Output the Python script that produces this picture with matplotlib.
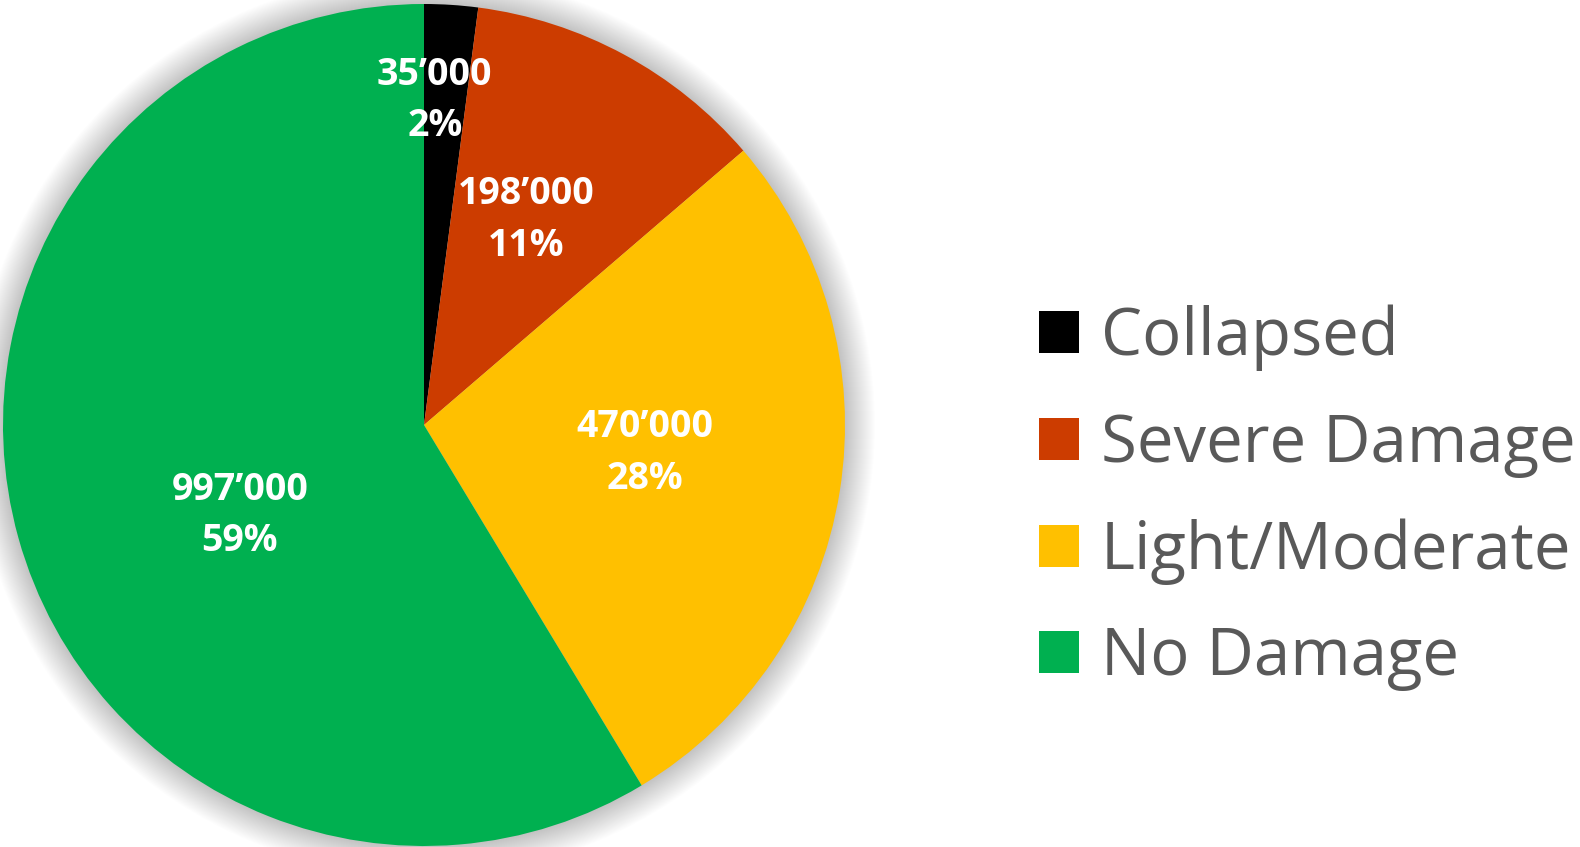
import numpy as np
import matplotlib.pyplot as plt
from matplotlib.patches import Circle

categories = ['Collapsed', 'Severe Damage', 'Light/Moderate', 'No Damage']
counts = [35000, 198000, 470000, 997000]
count_labels = ['35’000', '198’000', '470’000', '997’000']
pct_labels = ['2%', '11%', '28%', '59%']
colors = ['#000000', '#CC3C00', '#FFC000', '#00B050']
# data label placement: fraction of radius, and turn (deg) off the wedge middle
label_dist = [0.772, 0.544, 0.53, 0.487]
label_turn = [1.8, 1.9, 1.9, 10.5]

W, H = 1580, 847
fig = plt.figure(figsize=(W / 100, H / 100), dpi=100)
ax = fig.add_axes([0, 0, 1, 1])

cx, cy, r = 424, 422, 421

# soft shadow round the pie
for k in range(1, 31):
    ax.add_patch(Circle((cx, cy), r + k, color='black', alpha=0.006, lw=0, zorder=0))

wedges, _ = ax.pie(counts, colors=colors, startangle=90, counterclock=False,
                   center=(cx, cy), radius=r, frame=True,
                   wedgeprops=dict(linewidth=0))
ax.set_xlim(0, W)
ax.set_ylim(0, H)
ax.set_aspect('equal')
ax.axis('off')

for w, lab, pct, d, turn in zip(wedges, count_labels, pct_labels, label_dist, label_turn):
    theta = np.deg2rad((w.theta1 + w.theta2) / 2 + turn)
    ax.text(cx + d * r * np.cos(theta), cy + d * r * np.sin(theta),
            f'{lab}\n{pct}', ha='center', va='center', color='white',
            fontsize=27, fontweight='bold', family='Open Sans', linespacing=1.45)

leg = fig.legend(wedges, categories, loc='center left',
                 bbox_to_anchor=(1039 / W, 1 - 498 / H), frameon=False,
                 prop={'family': 'Open Sans', 'size': 47},
                 handlelength=0.62, handleheight=0.62, handletextpad=0.33,
                 labelspacing=0.62, borderpad=0, borderaxespad=0)
for t in leg.get_texts():
    t.set_color('#595959')

fig.savefig('out.png', dpi=100)
